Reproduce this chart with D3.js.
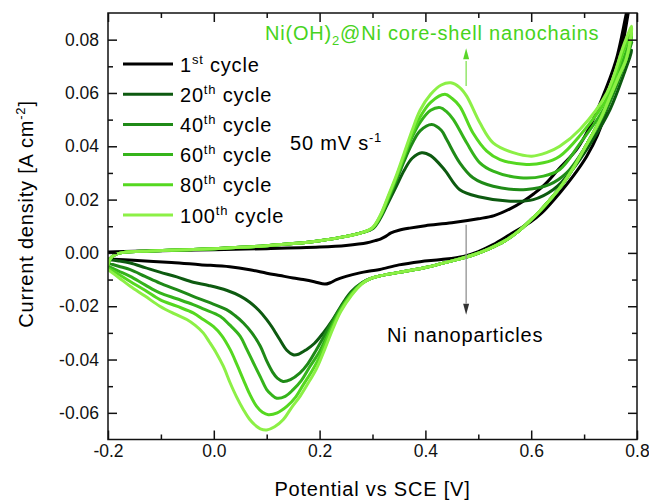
<!DOCTYPE html>
<html lang="en">
<head>
<meta charset="UTF-8">
<title>CV cycling - Ni(OH)2@Ni</title>
<script src="https://d3js.org/d3.v7.min.js"></script>
<style>
  body { margin: 0; background: #fff; }
  svg { display: block; font-family: "Liberation Sans", Arial, sans-serif; }
  .tick text { font-size: 17.5px; fill: #111; }
  .lbl { font-size: 20px; letter-spacing: 0.8px; }
</style>
</head>
<body>
<svg id="chart" width="649" height="502"></svg>
<script>
// ---- data: [potential V vs SCE, current density A cm^-2] ----
const cycleNum = ["1", "20", "40", "60", "80", "100"];
const cycleSup = ["st", "th", "th", "th", "th", "th"];
const cycleColor = ["#000000", "#0d5a10", "#1f8a17", "#35b41b", "#55d820", "#8cf046"];

const xTicks = [-0.2, 0.0, 0.2, 0.4, 0.6, 0.8];
const xMinor = [-0.1, 0.1, 0.3, 0.5, 0.7];
const yTicks = [-0.06, -0.04, -0.02, 0.00, 0.02, 0.04, 0.06, 0.08];
const yMinor = [-0.05, -0.03, -0.01, 0.01, 0.03, 0.05, 0.07];

// 1st cycle (Ni nanoparticles)
const black1Fwd = [[-0.2,0.0003],[-0.15,0.0006],[-0.1,0.0008],[0.0,0.0012],[0.1,0.0016],[0.2,0.0022],[0.25,0.0028],
  [0.29,0.0038],[0.305,0.0046],[0.315,0.0052],[0.325,0.0062],[0.335,0.0075],[0.35,0.0085],[0.37,0.0093],[0.4,0.0102],
  [0.45,0.0113],[0.5,0.0128],[0.53,0.014],[0.56,0.0165],[0.585,0.0194],[0.605,0.0222],[0.625,0.0255],[0.65,0.031],
  [0.686,0.0388],[0.71,0.047],[0.73,0.056],[0.76,0.072],[0.78,0.090],[0.79,0.099]];
const black1Rev = [[0.77,0.075],[0.749,0.058],[0.725,0.044],[0.705,0.0363],[0.68,0.029],[0.654,0.0225],[0.62,0.015],
  [0.598,0.0115],[0.56,0.0069],[0.528,0.0031],[0.5,0.0005],[0.472,-0.0013],[0.43,-0.0025],[0.39,-0.0033],[0.35,-0.0045],
  [0.314,-0.0062],[0.295,-0.0068],[0.276,-0.0075],[0.25,-0.0088],[0.232,-0.010],[0.22,-0.0112],[0.21,-0.0117],
  [0.19,-0.0108],[0.169,-0.010],[0.15,-0.0094],[0.125,-0.0085],[0.1,-0.0076],[0.068,-0.0063],[0.03,-0.0052],
  [-0.026,-0.0044],[-0.08,-0.0036],[-0.152,-0.0028],[-0.2,-0.0023]];

// shared parts of the green cycles
const greenFoot = [[-0.2,-0.0045],[-0.195,-0.002],[-0.185,-0.0005],[-0.17,0.0002],[-0.12,0.0007],[-0.05,0.0012],
  [0.0,0.0016],[0.05,0.0021],[0.1,0.0027],[0.15,0.0035],[0.2,0.0046],[0.25,0.0062],[0.28,0.0076]];
const greenReturn = [[0.78,0.073],[0.765,0.066],[0.75,0.059],[0.735,0.052],[0.72,0.046],[0.70,0.039],[0.68,0.032],
  [0.66,0.026],[0.64,0.021],[0.62,0.0165],[0.60,0.0125],[0.575,0.008],[0.55,0.0045],[0.52,0.0015],[0.49,-0.0008],
  [0.45,-0.003],[0.40,-0.0055],[0.35,-0.0073],[0.31,-0.0088],[0.295,-0.0097]];

// anodic (oxidation) part, 0.30 V -> vertex
const ox20 = [[0.30,0.0090],[0.315,0.0130],[0.33,0.019],[0.345,0.025],[0.36,0.031],[0.375,0.0355],[0.393,0.0376],
  [0.41,0.0365],[0.436,0.0312],[0.465,0.0237],[0.503,0.0210],[0.56,0.0194],[0.604,0.0200],[0.642,0.0238],
  [0.673,0.0300],[0.717,0.0426],[0.749,0.0538],[0.775,0.067],[0.79,0.076]];
const ox40 = [[0.30,0.0092],[0.315,0.0135],[0.33,0.020],[0.345,0.027],[0.36,0.0345],[0.375,0.041],[0.39,0.0458],
  [0.412,0.0482],[0.43,0.046],[0.44,0.0426],[0.465,0.0338],[0.49,0.0282],[0.528,0.025],[0.591,0.0238],[0.635,0.0257],
  [0.667,0.030],[0.70,0.039],[0.743,0.054],[0.775,0.070],[0.79,0.079]];
const ox60 = [[0.30,0.0093],[0.315,0.0137],[0.33,0.0205],[0.345,0.028],[0.36,0.036],[0.375,0.0435],[0.39,0.049],
  [0.41,0.0535],[0.428,0.0545],[0.44,0.053],[0.453,0.050],[0.478,0.0413],[0.503,0.0338],[0.528,0.0307],[0.579,0.0282],
  [0.623,0.0288],[0.654,0.0313],[0.692,0.041],[0.743,0.056],[0.775,0.073],[0.79,0.081]];
const ox80 = [[0.30,0.0094],[0.315,0.014],[0.33,0.021],[0.345,0.0285],[0.36,0.0365],[0.375,0.0445],[0.39,0.051],
  [0.41,0.0565],[0.437,0.0595],[0.45,0.058],[0.465,0.055],[0.49,0.045],[0.516,0.0382],[0.541,0.035],[0.591,0.0332],
  [0.623,0.0338],[0.654,0.0363],[0.692,0.044],[0.743,0.058],[0.775,0.076],[0.79,0.083]];
const ox100 = [[0.30,0.0095],[0.315,0.0142],[0.33,0.0215],[0.345,0.029],[0.36,0.0375],[0.375,0.046],[0.39,0.0535],
  [0.41,0.0595],[0.43,0.063],[0.448,0.0638],[0.465,0.062],[0.478,0.0588],[0.503,0.0488],[0.528,0.0413],[0.566,0.0376],
  [0.601,0.0363],[0.629,0.0376],[0.654,0.040],[0.692,0.0463],[0.743,0.060],[0.775,0.078],[0.79,0.085]];

// cathodic (reduction) part, 0.28 V -> -0.2 V
const red20 = [[0.28,-0.0112],[0.26,-0.0145],[0.245,-0.0185],[0.225,-0.025],[0.207,-0.030],[0.19,-0.034],[0.175,-0.0363],
  [0.16,-0.038],[0.15,-0.0382],[0.138,-0.0365],[0.125,-0.0326],[0.11,-0.0278],[0.1,-0.025],[0.085,-0.0215],[0.068,-0.0185],
  [0.05,-0.0162],[0.024,-0.014],[-0.01,-0.0122],[-0.039,-0.011],[-0.07,-0.009],[-0.102,-0.0072],[-0.13,-0.0055],
  [-0.158,-0.0038],[-0.18,-0.003],[-0.2,-0.0025]];
const red40 = [[0.28,-0.0113],[0.26,-0.015],[0.24,-0.0205],[0.22,-0.027],[0.205,-0.0325],[0.194,-0.0363],[0.178,-0.0415],
  [0.163,-0.045],[0.145,-0.0475],[0.131,-0.0482],[0.12,-0.047],[0.112,-0.045],[0.1,-0.0405],[0.088,-0.035],[0.072,-0.030],
  [0.056,-0.0263],[0.04,-0.0235],[0.024,-0.0213],[-0.01,-0.0185],[-0.039,-0.0163],[-0.07,-0.0138],[-0.102,-0.0113],
  [-0.13,-0.0088],[-0.158,-0.0063],[-0.18,-0.005],[-0.2,-0.0038]];
const red60 = [[0.28,-0.0114],[0.26,-0.0153],[0.24,-0.021],[0.22,-0.0285],[0.2,-0.037],[0.182,-0.0425],[0.165,-0.048],
  [0.15,-0.0513],[0.135,-0.0538],[0.119,-0.0545],[0.108,-0.053],[0.1,-0.0513],[0.088,-0.0465],[0.075,-0.0413],
  [0.062,-0.036],[0.05,-0.0313],[0.03,-0.027],[0.012,-0.0238],[-0.02,-0.021],[-0.039,-0.0194],[-0.07,-0.0172],
  [-0.102,-0.015],[-0.13,-0.012],[-0.158,-0.0088],[-0.18,-0.0068],[-0.2,-0.005]];
const red80 = [[0.28,-0.0115],[0.26,-0.0156],[0.24,-0.0215],[0.22,-0.0295],[0.2,-0.039],[0.185,-0.0445],[0.169,-0.0495],
  [0.155,-0.054],[0.138,-0.0576],[0.12,-0.060],[0.103,-0.0607],[0.092,-0.0598],[0.081,-0.0576],[0.068,-0.053],
  [0.056,-0.0476],[0.044,-0.042],[0.031,-0.0363],[0.015,-0.031],[-0.001,-0.0276],[-0.02,-0.025],[-0.039,-0.0225],
  [-0.07,-0.020],[-0.102,-0.0175],[-0.13,-0.014],[-0.158,-0.0107],[-0.18,-0.008],[-0.2,-0.0057]];
const red100 = [[0.28,-0.0116],[0.26,-0.016],[0.24,-0.022],[0.225,-0.0285],[0.21,-0.036],[0.194,-0.0435],[0.178,-0.049],
  [0.163,-0.0538],[0.147,-0.058],[0.131,-0.0626],[0.115,-0.0652],[0.1,-0.0664],[0.088,-0.066],[0.081,-0.0651],
  [0.068,-0.0625],[0.056,-0.0588],[0.043,-0.054],[0.031,-0.0488],[0.018,-0.0425],[0.005,-0.0376],[-0.008,-0.0335],
  [-0.02,-0.030],[-0.035,-0.0272],[-0.051,-0.025],[-0.075,-0.0228],[-0.102,-0.020],[-0.13,-0.0162],[-0.158,-0.0125],
  [-0.18,-0.0092],[-0.2,-0.0063]];

// full loops, drawn in this order
const cycles = [
  black1Fwd.concat(black1Rev),
  greenFoot.concat(ox20, greenReturn, red20),
  greenFoot.concat(ox40, greenReturn, red40),
  greenFoot.concat(ox60, greenReturn, red60),
  greenFoot.concat(ox80, greenReturn, red80),
  greenFoot.concat(ox100, greenReturn, red100)
];

// ---- chart ----
const svg = d3.select("#chart");
const W = +svg.attr("width"), H = +svg.attr("height");
const plot = { left: 108, right: 637, top: 13, bottom: 439.5 };

svg.append("rect").attr("width", W).attr("height", H).attr("fill", "#fff");

const x = d3.scaleLinear().domain([-0.2, 0.8]).range([plot.left, plot.right]);
const y = d3.scaleLinear().domain([-0.07, 0.09]).range([plot.bottom, plot.top]);

svg.append("clipPath").attr("id", "clip")
  .append("rect")
  .attr("x", plot.left).attr("y", plot.top)
  .attr("width", plot.right - plot.left).attr("height", plot.bottom - plot.top);

const line = d3.line()
  .x(d => x(d[0]))
  .y(d => y(d[1]))
  .curve(d3.curveCatmullRom.alpha(0.5));

svg.append("g").attr("clip-path", "url(#clip)")
  .selectAll("path")
  .data(cycles)
  .enter().append("path")
  .attr("d", line)
  .attr("fill", "none")
  .attr("stroke", (d, i) => cycleColor[i])
  .attr("stroke-width", 3)
  .attr("stroke-linejoin", "round")
  .attr("stroke-linecap", "round");

// axes: ticks inward on all four sides
function styleAxis(g) {
  g.select(".domain").remove();
  g.selectAll(".tick line").attr("stroke", "#111").attr("stroke-width", 1.5);
}
// plain hyphen for negatives, like the original
const fmtY = d => d.toFixed(2), fmtX = d => d.toFixed(1);

svg.append("g").attr("transform", `translate(${plot.left},0)`)
  .call(d3.axisLeft(y).tickValues(yTicks).tickSize(-9).tickPadding(9).tickFormat(fmtY))
  .call(styleAxis);
svg.append("g").attr("transform", `translate(${plot.left},0)`)
  .call(d3.axisLeft(y).tickValues(yMinor).tickSize(-5).tickFormat(""))
  .call(styleAxis);
svg.append("g").attr("transform", `translate(${plot.right},0)`)
  .call(d3.axisRight(y).tickValues(yTicks).tickSize(-9).tickFormat(""))
  .call(styleAxis);
svg.append("g").attr("transform", `translate(${plot.right},0)`)
  .call(d3.axisRight(y).tickValues(yMinor).tickSize(-5).tickFormat(""))
  .call(styleAxis);

svg.append("g").attr("transform", `translate(0,${plot.bottom})`)
  .call(d3.axisBottom(x).tickValues(xTicks).tickSize(-9).tickPadding(5).tickFormat(fmtX))
  .call(styleAxis);
svg.append("g").attr("transform", `translate(0,${plot.bottom})`)
  .call(d3.axisBottom(x).tickValues(xMinor).tickSize(-5).tickFormat(""))
  .call(styleAxis);
svg.append("g").attr("transform", `translate(0,${plot.top})`)
  .call(d3.axisTop(x).tickValues(xTicks).tickSize(-9).tickFormat(""))
  .call(styleAxis);
svg.append("g").attr("transform", `translate(0,${plot.top})`)
  .call(d3.axisTop(x).tickValues(xMinor).tickSize(-5).tickFormat(""))
  .call(styleAxis);

svg.selectAll(".tick text").attr("font-family", null).attr("font-size", null);

// frame
svg.append("rect")
  .attr("x", plot.left).attr("y", plot.top)
  .attr("width", plot.right - plot.left).attr("height", plot.bottom - plot.top)
  .attr("fill", "none").attr("stroke", "#111").attr("stroke-width", 1.5);

// axis titles
svg.append("text").attr("class", "lbl")
  .attr("x", (plot.left + plot.right) / 2).attr("y", 496)
  .attr("text-anchor", "middle")
  .text("Potential vs SCE [V]");

const yt = svg.append("text").attr("class", "lbl")
  .attr("transform", "translate(33,214) rotate(-90)")
  .attr("text-anchor", "middle");
yt.append("tspan").text("Current density [A cm");
yt.append("tspan").attr("font-size", 13).attr("dy", -8).text("-2");
yt.append("tspan").attr("dy", 8).text("]");

// legend
const legend = svg.append("g");
cycleNum.forEach((n, i) => {
  const ly = 64 + i * 30.2;
  legend.append("line")
    .attr("x1", 123).attr("x2", 173).attr("y1", ly).attr("y2", ly)
    .attr("stroke", cycleColor[i]).attr("stroke-width", 3);
  const t = legend.append("text").attr("class", "lbl").attr("x", 180).attr("y", ly + 7.5);
  t.append("tspan").text(n);
  t.append("tspan").attr("font-size", 13).attr("dy", -8).text(cycleSup[i]);
  t.append("tspan").attr("dy", 8).text(" cycle");
});

// scan rate
const sr = svg.append("text").attr("class", "lbl").attr("x", 290).attr("y", 150);
sr.append("tspan").text("50 mV s");
sr.append("tspan").attr("font-size", 13).attr("dy", -8).text("-1");

// annotations
const arrowV = 0.477;
const nc = svg.append("text").attr("class", "lbl")
  .attr("x", 265).attr("y", 39.5).attr("fill", "#47d320");
nc.append("tspan").text("Ni(OH)");
nc.append("tspan").attr("font-size", 13).attr("dy", 5).text("2");
nc.append("tspan").attr("dy", -5).text("@Ni core-shell nanochains");

svg.append("line")
  .attr("x1", x(arrowV)).attr("x2", x(arrowV))
  .attr("y1", y(0.0626)).attr("y2", y(0.072))
  .attr("stroke", "#7ae048").attr("stroke-width", 1.2);
svg.append("path")
  .attr("d", `M${x(arrowV)},${y(0.0768)} l-3,11 l6,0 Z`)
  .attr("fill", "#5ad62a");

svg.append("line")
  .attr("x1", x(arrowV)).attr("x2", x(arrowV))
  .attr("y1", y(0.0106)).attr("y2", y(-0.019))
  .attr("stroke", "#888").attr("stroke-width", 1.2);
svg.append("path")
  .attr("d", `M${x(arrowV)},${y(-0.0232)} l-3,-11 l6,0 Z`)
  .attr("fill", "#333");

svg.append("text").attr("class", "lbl")
  .attr("x", 387).attr("y", 341.5)
  .text("Ni nanoparticles");
</script>
</body>
</html>
